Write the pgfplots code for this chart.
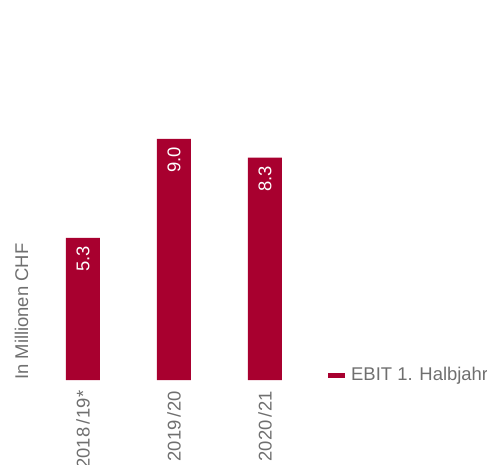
\documentclass[border=0pt]{standalone}
\usepackage{pgfplots}
\pgfplotsset{compat=1.18}
\usepackage{fontspec}
\setmainfont{Liberation Sans}
\definecolor{barred}{HTML}{A8002F}
\definecolor{txtgray}{HTML}{6F6F6F}
\begin{document}
\begin{tikzpicture}
\useasboundingbox (0,0) rectangle (487bp,465bp);
\begin{axis}[
  at={(35bp,85bp)}, anchor=south west,
  scale only axis,
  width=275.5bp, height=380bp,
  xmin=-0.527, xmax=2.5,
  ymin=0, ymax=14.18,
  ybar, bar width=34bp,
  axis line style={draw=none},
  tick style={draw=none},
  ytick=\empty,
  xtick={0,1,2},
  xticklabels={2018\,/\kern1pt19*, 2019\,/\kern1pt20, 2020\,/\kern1pt21},
  font=\fontsize{18.5}{20}\selectfont,
  tick label style={rotate=90, anchor=east, color=txtgray, font=\fontsize{18.5}{20}\selectfont, xshift=-3bp},
  nodes near coords,
  /pgf/number format/.cd, fixed, fixed zerofill, precision=1, assume math mode=true,
  /pgfplots/.cd,
  every node near coord/.append style={rotate=90, anchor=east, color=white, inner sep=0pt, xshift=-8bp, yshift=0bp, font=\fontsize{18.5}{20}\selectfont},
  legend style={at={(axis description cs:1,0)}, anchor=south west, xshift=17.5bp, yshift=-4bp, draw=none, fill=none, inner sep=0pt, font=\fontsize{18.5}{20}\selectfont, text=txtgray},
  legend image code/.code={\fill[barred] (0bp,-4bp) rectangle (17bp,1bp); \path (21bp,0bp);},
]
\addplot[fill=barred, draw=none] coordinates {(0,5.3) (1,9.0) (2,8.3)};
\addlegendentry{EBIT 1. Halbjahr}
\end{axis}
\node[rotate=90, anchor=base west, color=txtgray, font=\fontsize{18.5}{20}\selectfont, inner sep=0pt] at (28bp,85bp) {In Millionen CHF};
\end{tikzpicture}
\end{document}
